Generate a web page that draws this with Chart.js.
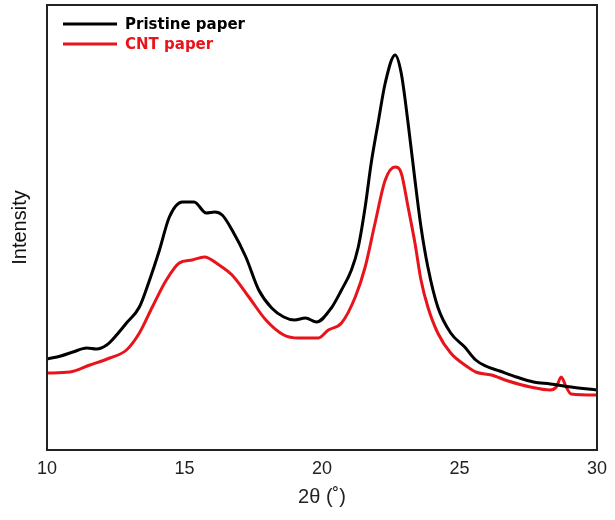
<!DOCTYPE html>
<html>
<head>
<meta charset="utf-8">
<script src="https://cdn.jsdelivr.net/npm/chart.js@4"></script>
<style>
  html, body { margin: 0; padding: 0; background: #fff; }
  #wrap { width: 615px; height: 520px; }
</style>
</head>
<body>
<div id="wrap"><canvas id="grafico" width="615" height="520"></canvas></div>
<script>
// 2θ positions and intensities (arbitrary units)
const pristineTheta = [10.0, 10.5, 10.94, 11.45, 11.8, 12.17, 12.53, 12.89, 13.36, 13.73, 14.09, 14.45, 14.92, 15.35, 15.79, 16.1, 16.37, 16.73, 17.23, 17.7, 18.17, 18.61, 19.0, 19.4, 19.8, 20.34, 20.71, 21.07, 21.32, 21.57, 21.79, 22.04, 22.3, 22.66, 22.88, 23.13, 23.38, 23.6, 23.85, 24.21, 24.68, 25.19, 25.59, 25.95, 26.46, 27.07, 27.69, 28.3, 29.06, 30.0];
const pristineValues = [91, 94, 98, 102, 101, 105, 115, 127, 143, 170, 200, 233, 248, 248, 237, 238, 235, 220, 193, 160, 142, 133, 130, 132, 128, 142, 160, 180, 203, 243, 287, 327, 367, 395, 377, 327, 270, 223, 183, 143, 117, 103, 90, 84, 79, 73, 68, 66, 63, 60];

const cntTheta = [10.0, 10.83, 11.56, 12.28, 12.89, 13.36, 13.83, 14.34, 14.81, 15.28, 15.72, 16.26, 16.73, 17.34, 17.96, 18.61, 19.15, 19.87, 20.23, 20.71, 21.21, 21.57, 21.93, 22.3, 22.66, 22.88, 23.13, 23.38, 23.6, 23.85, 24.21, 24.68, 25.3, 25.59, 26.16, 26.77, 27.58, 28.3, 28.52, 28.7, 28.88, 29.06, 30.0];
const cntValues = [77, 78, 85, 92, 100, 117, 143, 170, 187, 190, 193, 185, 175, 153, 130, 115, 112, 112, 120, 127, 153, 183, 227, 270, 283, 277, 243, 207, 170, 143, 117, 97, 83, 78, 75, 69, 63, 60, 63, 73, 63, 56, 55];

const xTicks = [10, 15, 20, 25, 30];

function pontos(xs, ys) {
  return xs.map((x, i) => ({ x: x, y: ys[i] }));
}

// moldura em volta da area do grafico
const moldura = {
  id: "moldura",
  afterDraw(chart) {
    const { ctx, chartArea: a } = chart;
    ctx.save();
    ctx.strokeStyle = "#222";
    ctx.lineWidth = 2;
    ctx.strokeRect(a.left, a.top, a.right - a.left, a.bottom - a.top);
    ctx.restore();
  }
};

// legenda desenhada dentro do grafico, canto superior esquerdo
const legenda = {
  id: "legenda",
  afterDraw(chart) {
    const ctx = chart.ctx;
    const itens = [
      { texto: "Pristine paper", cor: "#000000", y: 24 },
      { texto: "CNT paper", cor: "#e8141b", y: 44 }
    ];
    ctx.save();
    ctx.font = "bold 15px 'DejaVu Sans'";
    ctx.textBaseline = "middle";
    itens.forEach(it => {
      ctx.strokeStyle = it.cor;
      ctx.lineWidth = 3;
      ctx.beginPath();
      ctx.moveTo(63, it.y);
      ctx.lineTo(117, it.y);
      ctx.stroke();
      ctx.fillStyle = it.cor;
      ctx.fillText(it.texto, 125, it.y + 1);
    });
    ctx.restore();
  }
};

new Chart(document.getElementById("grafico"), {
  type: "line",
  data: {
    datasets: [
      {
        label: "Pristine paper",
        data: pontos(pristineTheta, pristineValues),
        borderColor: "#000000",
        borderWidth: 3,
        pointRadius: 0,
        tension: 0.3,
        cubicInterpolationMode: "monotone"
      },
      {
        label: "CNT paper",
        data: pontos(cntTheta, cntValues),
        borderColor: "#e8141b",
        borderWidth: 3,
        pointRadius: 0,
        tension: 0.3,
        cubicInterpolationMode: "monotone"
      }
    ]
  },
  options: {
    responsive: false,
    animation: false,
    layout: { padding: { top: 5, right: 15, left: 0, bottom: 0 } },
    plugins: {
      legend: { display: false },
      tooltip: { enabled: false }
    },
    scales: {
      x: {
        type: "linear",
        min: 10,
        max: 30,
        afterBuildTicks(scale) {
          scale.ticks = xTicks.map(v => ({ value: v }));
        },
        afterFit(scale) { scale.height = 70; },
        grid: { display: false, drawTicks: false },
        border: { display: false },
        ticks: {
          padding: 8,
          color: "#222",
          font: { family: "'Liberation Sans', Arial", size: 18 }
        },
        title: {
          display: true,
          text: "2θ (˚)",
          color: "#222",
          padding: { top: 4, bottom: 11 },
          font: { family: "'Liberation Sans', Arial", size: 20 }
        }
      },
      y: {
        min: 0,
        max: 445,
        afterFit(scale) { scale.width = 47; },
        grid: { display: false, drawTicks: false },
        border: { display: false },
        ticks: { display: false },
        title: {
          display: true,
          text: "Intensity",
          color: "#111",
          padding: 8,
          font: { family: "'Liberation Sans', Arial", size: 20 }
        }
      }
    }
  },
  plugins: [moldura, legenda]
});
</script>
</body>
</html>
